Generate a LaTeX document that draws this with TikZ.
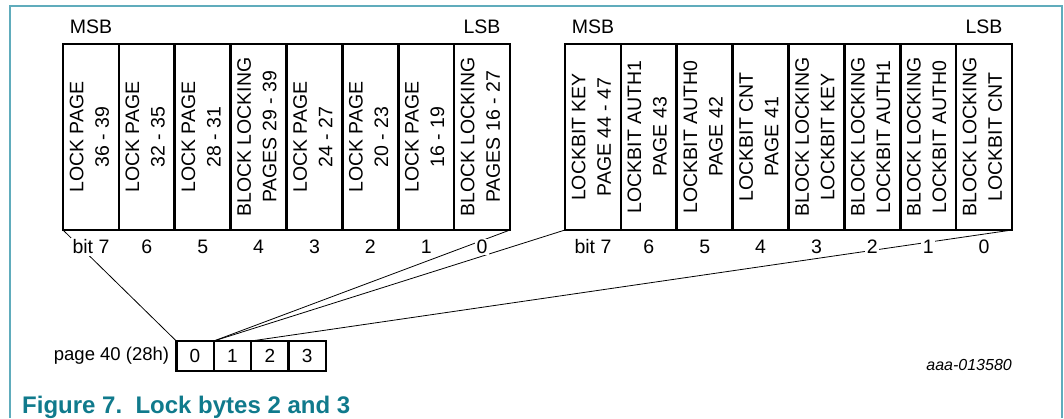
\documentclass[tikz,border=0pt]{standalone}
\usepackage{fontspec}
\setmainfont{Liberation Sans}
\usepackage{graphicx}
\definecolor{framec}{RGB}{96,172,188}
\definecolor{capc}{RGB}{16,122,140}
\newcommand{\celltxt}[2]{\rotatebox{90}{\begin{tabular}{@{}c@{}}#1\\#2\end{tabular}}}
\begin{document}
\begin{tikzpicture}[x=1pt,y=-1pt,
  cell/.style={draw, line width=2.6pt, minimum width=55.875pt, minimum height=186pt, inner sep=0pt, outer sep=0pt, anchor=north west, font=\fontsize{19.5}{25.5}\selectfont},
  pcell/.style={draw, line width=2.4pt, minimum width=37.4pt, minimum height=30pt, inner sep=0pt, outer sep=0pt, anchor=north west, font=\fontsize{19}{22}\selectfont},
  bitlbl/.style={fill=white, inner sep=1.5pt, font=\fontsize{19.5}{23}\selectfont},
  hdr/.style={inner sep=0pt, font=\fontsize{19.5}{23}\selectfont},
  conn/.style={line width=0.8pt},
  ]
\useasboundingbox (0,0) rectangle (1064,418);
\draw[framec, line width=1.2pt] (10,418) -- (10,6) -- (1062,6) -- (1062,418);

% left register (lock byte 2)
\foreach \i/\a/\b in {7/LOCK PAGE/36 - 39, 6/LOCK PAGE/32 - 35, 5/LOCK PAGE/28 - 31,
  4/BLOCK LOCKING/PAGES 29 - 39, 3/LOCK PAGE/24 - 27, 2/LOCK PAGE/20 - 23,
  1/LOCK PAGE/16 - 19, 0/BLOCK LOCKING/PAGES 16 - 27}
  \node[cell] (L\i) at ({63+(7-\i)*55.875},44) {\celltxt{\a}{\b}};

% right register (lock byte 3)
\foreach \i/\a/\b in {7/LOCKBIT KEY/PAGE 44 - 47, 6/LOCKBIT AUTH1/PAGE 43,
  5/LOCKBIT AUTH0/PAGE 42, 4/LOCKBIT CNT/PAGE 41, 3/BLOCK LOCKING/LOCKBIT KEY,
  2/BLOCK LOCKING/LOCKBIT AUTH1, 1/BLOCK LOCKING/LOCKBIT AUTH0, 0/BLOCK LOCKING/LOCKBIT CNT}
  \node[cell] (R\i) at ({565+(7-\i)*55.875},44) {\celltxt{\a}{\b}};

% headers
\node[hdr] (lmsb) at ([yshift=17pt]L7.north) {MSB};
\node[hdr] (llsb) at ([yshift=17pt]L0.north) {LSB};
\node[hdr] (rmsb) at ([yshift=17pt]R7.north) {MSB};
\node[hdr] (rlsb) at ([yshift=17pt]R0.north) {LSB};

% page 40
\foreach \i in {0,1,2,3}
  \node[pcell] (P\i) at ({176.3+\i*37.4},341) {\i};
\node[anchor=east, inner sep=0pt, font=\fontsize{18.5}{22}\selectfont] (plbl) at ([xshift=-7pt]P0.west) {page 40 (28h)};

% connectors
\draw[conn] (L7.south west) -- (P0.north west);
\draw[conn] (L0.south east) -- (P1.north west);
\draw[conn] (R7.south west) -- (P1.north west);
\draw[conn] (R0.south east) -- (P2.north west);

% bit labels
\foreach \i in {6,5,4,3,2,1,0} {
  \node[bitlbl] (lb\i) at ([yshift=-17pt]L\i.south) {\i};
  \node[bitlbl] (rb\i) at ([yshift=-17pt]R\i.south) {\i};
}
\node[bitlbl] (lb7) at ([yshift=-17pt]L7.south) {bit 7};
\node[bitlbl] (rb7) at ([yshift=-17pt]R7.south) {bit 7};

\node[anchor=east, inner sep=0pt, font=\itshape\fontsize{16}{19}\selectfont] (fid) at (1012,365) {aaa-013580};
\node[anchor=west, inner sep=0pt, text=capc, font=\bfseries\fontsize{24}{28}\selectfont] (cap) at (22,407) {Figure 7.~~Lock bytes 2 and 3};
\end{tikzpicture}
\end{document}
